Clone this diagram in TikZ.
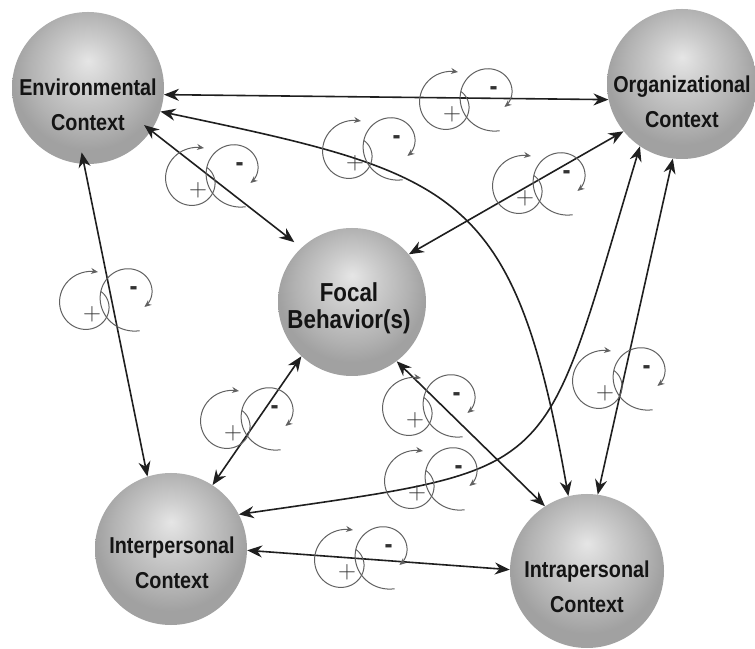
\documentclass[tikz,border=0pt]{standalone}
\usepackage{fontspec}
\usepackage{tikz}
\usetikzlibrary{arrows.meta}

\newfontfamily\ballfont[FakeStretch=0.86]{Liberation Sans}
\pgfdeclareradialshading{orb}{\pgfpoint{0bp}{9bp}}{%
  color(0bp)=(black!10); color(9bp)=(black!20); color(19bp)=(black!30);
  color(25bp)=(black!37); color(50bp)=(black!37)}

\begin{document}
\begin{tikzpicture}[
      x=1pt, y=1pt,
      ball/.style={circle, shading=orb, minimum size=152pt, inner sep=0pt},
      txt/.style={align=center, text=black!92, inner sep=0pt,
        font=\ballfont\bfseries\fontsize{23}{35}\selectfont},
      ar/.style={{Stealth[length=15pt,width=12pt]}-{Stealth[length=15pt,width=12pt]},
        line width=1.6pt, draw=black!88},
      lp/.style={line width=1pt, draw=black!62},
      lptip/.style={-{Stealth[length=7pt,width=6pt]}},
      fbloop/.pic={
        \draw[lp, lptip, shift={(-3.4,9.3)}]
          plot[domain=47:-286, samples=60, variable=\t] (\t:{18+16*(47-\t)/333});
        \draw[lp, lptip, shift={(39.3,19.3)}]
          plot[domain=283:-43, samples=60, variable=\t] (\t:{37-19*(283-\t)/326});
        \node[font=\Huge, text=black!80, inner sep=0pt] (-plus) at (0,0) {$+$};
        \node[font=\ballfont\bfseries\fontsize{28}{28}\selectfont, text=black!80,
          inner sep=0pt] (-minus) at (41.6,23) {-};
      }]
    \fill[white] (0,0) rectangle (755,648);
    \useasboundingbox (0,0) rectangle (755,648);

    \node[ball] (env) at (88,560) {};
    \node[txt] (envt) at (88,543) {Environmental\\Context};
    \node[ball, minimum size=150pt] (org) at (682,564) {};
    \node[txt] (orgt) at (682,546) {Organizational\\Context};
    \node[ball, minimum size=148pt] (foc) at (352,346) {};
    \node[txt, font=\ballfont\bfseries\fontsize{26}{27}\selectfont] (foct) at (349,340) {Focal\\Behavior(s)};
    \node[ball] (inter) at (171,99) {};
    \node[txt] (intert) at (172,85) {Interpersonal\\Context};
    \node[ball, minimum size=154pt] (intra) at (587,77) {};
    \node[txt] (intrat) at (587,61) {Intrapersonal\\Context};

    \draw[ar] (env.-5) -- (org.192);
    \draw[ar] (env.-18) .. controls (457,474) and (514,460) .. (intra.104);
    \draw[ar, shorten <=-9pt, shorten >=9pt] (env.-34) -- (foc.133);
    \draw[ar, shorten <=-12pt] (env.-93) -- (inter.108);
    \draw[ar] (org.219) -- (foc.40);
    \draw[ar] (org.236) .. controls (539,165) and (565,181) .. (inter.27);
    \draw[ar] (org.263) -- (intra.82);
    \draw[ar] (foc.227) -- (inter.57);
    \draw[ar] (foc.-53) -- (intra.123);
    \draw[ar] (inter.-1) -- (intra.179);

    \pic (eo) at (452,534) {fbloop};
    \pic (ea) at (355,485) {fbloop};
    \pic (ef) at (198,458) {fbloop};
    \pic (ei) at (92,334)  {fbloop};
    \pic (of) at (525,450) {fbloop};
    \pic (fi) at (233,215) {fbloop};
    \pic (fa) at (415,228) {fbloop};
    \pic (oi) at (417,155) {fbloop};
    \pic (oa) at (605,255) {fbloop};
    \pic (ia) at (347,76)  {fbloop};
  \end{tikzpicture}
\end{document}
